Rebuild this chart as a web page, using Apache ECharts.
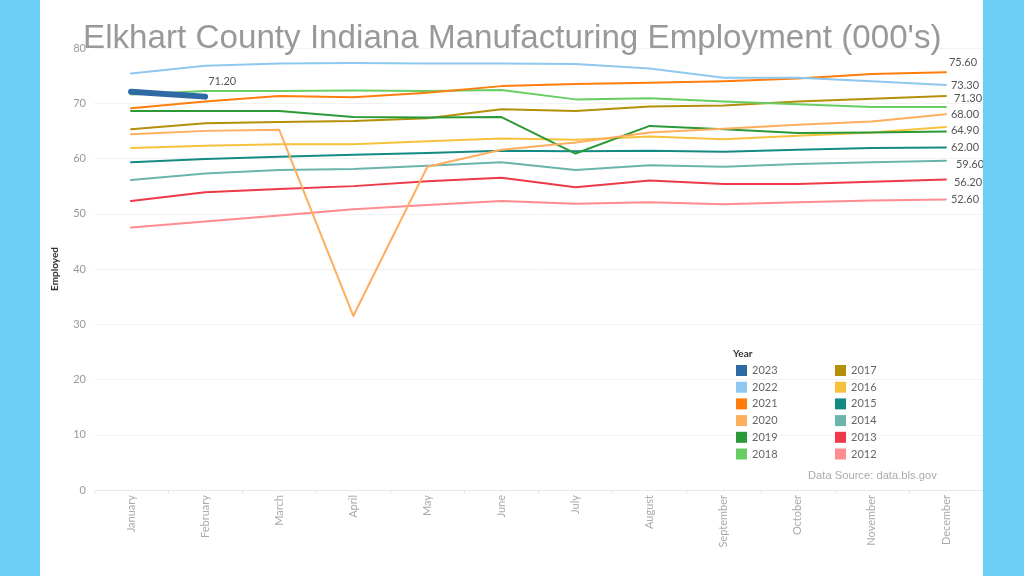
<!DOCTYPE html>
<html>
<head>
<meta charset="utf-8">
<script src="https://cdn.jsdelivr.net/npm/echarts@6/dist/echarts.min.js"></script>
<style>
html,body{margin:0;padding:0;background:#fff;}
#chart{width:1024px;height:576px;}
</style>
</head>
<body>
<div id="chart"></div>
<script>
// ---- data ----
var months = ['January','February','March','April','May','June','July','August','September','October','November','December'];
var yTicks = [0, 10, 20, 30, 40, 50, 60, 70, 80];
var years = ['2012','2013','2014','2015','2016','2017','2018','2019','2020','2021','2022','2023'];
var v2012 = [47.5, 48.6, 49.7, 50.8, 51.6, 52.3, 51.8, 52.1, 51.7, 52.1, 52.4, 52.6];
var v2013 = [52.3, 53.9, 54.5, 55.0, 55.9, 56.5, 54.8, 56.0, 55.4, 55.4, 55.8, 56.2];
var v2014 = [56.1, 57.3, 57.9, 58.1, 58.7, 59.3, 57.9, 58.8, 58.5, 59.0, 59.3, 59.6];
var v2015 = [59.3, 59.9, 60.3, 60.7, 61.0, 61.4, 61.3, 61.4, 61.2, 61.6, 61.9, 62.0];
var v2016 = [61.9, 62.3, 62.6, 62.6, 63.1, 63.6, 63.4, 64.0, 63.5, 64.1, 64.7, 65.7];
var v2017 = [65.3, 66.4, 66.6, 66.8, 67.3, 68.9, 68.6, 69.4, 69.6, 70.3, 70.8, 71.3];
var v2018 = [71.6, 72.2, 72.2, 72.3, 72.2, 72.4, 70.7, 70.9, 70.3, 69.8, 69.3, 69.3];
var v2019 = [68.6, 68.6, 68.6, 67.5, 67.4, 67.5, 60.9, 65.9, 65.3, 64.6, 64.7, 64.9];
var v2020 = [64.4, 65.0, 65.2, 31.5, 58.5, 61.6, 62.9, 64.7, 65.4, 66.1, 66.7, 68.0];
var v2021 = [69.1, 70.3, 71.3, 71.1, 71.9, 73.1, 73.5, 73.7, 74.0, 74.5, 75.3, 75.6];
var v2022 = [75.4, 76.8, 77.2, 77.3, 77.2, 77.2, 77.1, 76.3, 74.6, 74.6, 74.0, 73.3];
var v2023 = [72.1, 71.2];
var values = [v2012, v2013, v2014, v2015, v2016, v2017, v2018, v2019, v2020, v2021, v2022, v2023];

// ---- styles ----
var colors = {
  '2012':'#FF8C8E','2013':'#EE3A48','2014':'#6AB4AB','2015':'#148A84',
  '2016':'#F6C23C','2017':'#B38F0A','2018':'#68CD63','2019':'#2A9A37',
  '2020':'#FFAE5E','2021':'#FF7D0C','2022':'#8EC8EE','2023':'#2E6BA4'
};
var endLabelOffset = {
  '2012':[-3,0],'2013':[0,3],'2014':[2,3.5],'2015':[-3,0],
  '2017':[0,2.5],'2019':[-3,-1],'2020':[-3,0],'2021':[-5,-10],
  '2022':[-3,0],'2023':[-5,-15]
};
var font = 'Lato, "Open Sans", sans-serif';

var series = years.map(function(y, i){
  var hasLabel = endLabelOffset[y] !== undefined;
  return {
    name: y,
    type: 'line',
    data: values[i],
    symbol: 'none',
    color: colors[y],
    z: 2 + i,
    lineStyle: {width: y === '2023' ? 6 : 2, color: colors[y], cap: 'round', join: 'round'},
    emphasis: {disabled: true},
    endLabel: {
      show: hasLabel,
      formatter: function(p){ return Number(p.value).toFixed(2); },
      color: '#555',
      fontSize: 11,
      fontFamily: font,
      offset: hasLabel ? endLabelOffset[y] : [0,0]
    }
  };
});

var legendStyle = {
  orient: 'vertical',
  icon: 'rect',
  padding: 0,
  itemWidth: 11,
  itemHeight: 11,
  itemGap: 5.7,
  textStyle: {color: '#666', fontSize: 11, fontFamily: font},
  selectedMode: false
};

var chart = echarts.init(document.getElementById('chart'), null, {renderer: 'canvas'});
chart.setOption({
  animation: false,
  backgroundColor: '#fff',
  grid: {left: 94, right: 41, top: 48, bottom: 86, containLabel: false},
  xAxis: {
    type: 'category',
    data: months,
    boundaryGap: true,
    axisLine: {show: true, lineStyle: {color: '#e8e8e8'}},
    axisTick: {show: true, length: 4, lineStyle: {color: '#e8e8e8'}},
    axisLabel: {rotate: 90, color: '#aaa', fontSize: 11, fontFamily: font, margin: 5}
  },
  yAxis: {
    type: 'value',
    min: yTicks[0],
    max: yTicks[yTicks.length - 1],
    interval: 10,
    name: 'Employed',
    nameLocation: 'middle',
    nameGap: 34,
    nameRotate: 90,
    nameTextStyle: {color: '#333', fontSize: 10, fontWeight: 'bold', fontFamily: font},
    axisLine: {show: false},
    axisTick: {show: false},
    axisLabel: {color: '#999', fontSize: 11, fontFamily: font, margin: 8},
    splitLine: {lineStyle: {color: '#f2f2f2'}}
  },
  legend: [
    Object.assign({left: 736, top: 365, data: years.slice(6).reverse()}, legendStyle),
    Object.assign({left: 835, top: 365, data: years.slice(0, 6).reverse()}, legendStyle)
  ],
  graphic: [
    {type: 'rect', left: 0, top: 0, shape: {width: 40, height: 576}, style: {fill: '#6DCFF6'}, z: 100},
    {type: 'rect', left: 983, top: 0, shape: {width: 41, height: 576}, style: {fill: '#6DCFF6'}, z: 100},
    {type: 'text', left: 83, top: 22, z: 50,
      style: {text: "Elkhart County Indiana Manufacturing Employment (000's)", fill: '#999', font: '33.2px "Liberation Sans", Arial, sans-serif'}},
    {type: 'text', left: 733, top: 349, z: 50,
      style: {text: 'Year', fill: '#333', font: 'bold 10px ' + font}},
    {type: 'text', left: 808, top: 470, z: 50,
      style: {text: 'Data Source: data.bls.gov', fill: '#aaa', font: '11.2px "Liberation Sans", Arial, sans-serif'}}
  ],
  series: series
});
</script>
</body>
</html>
